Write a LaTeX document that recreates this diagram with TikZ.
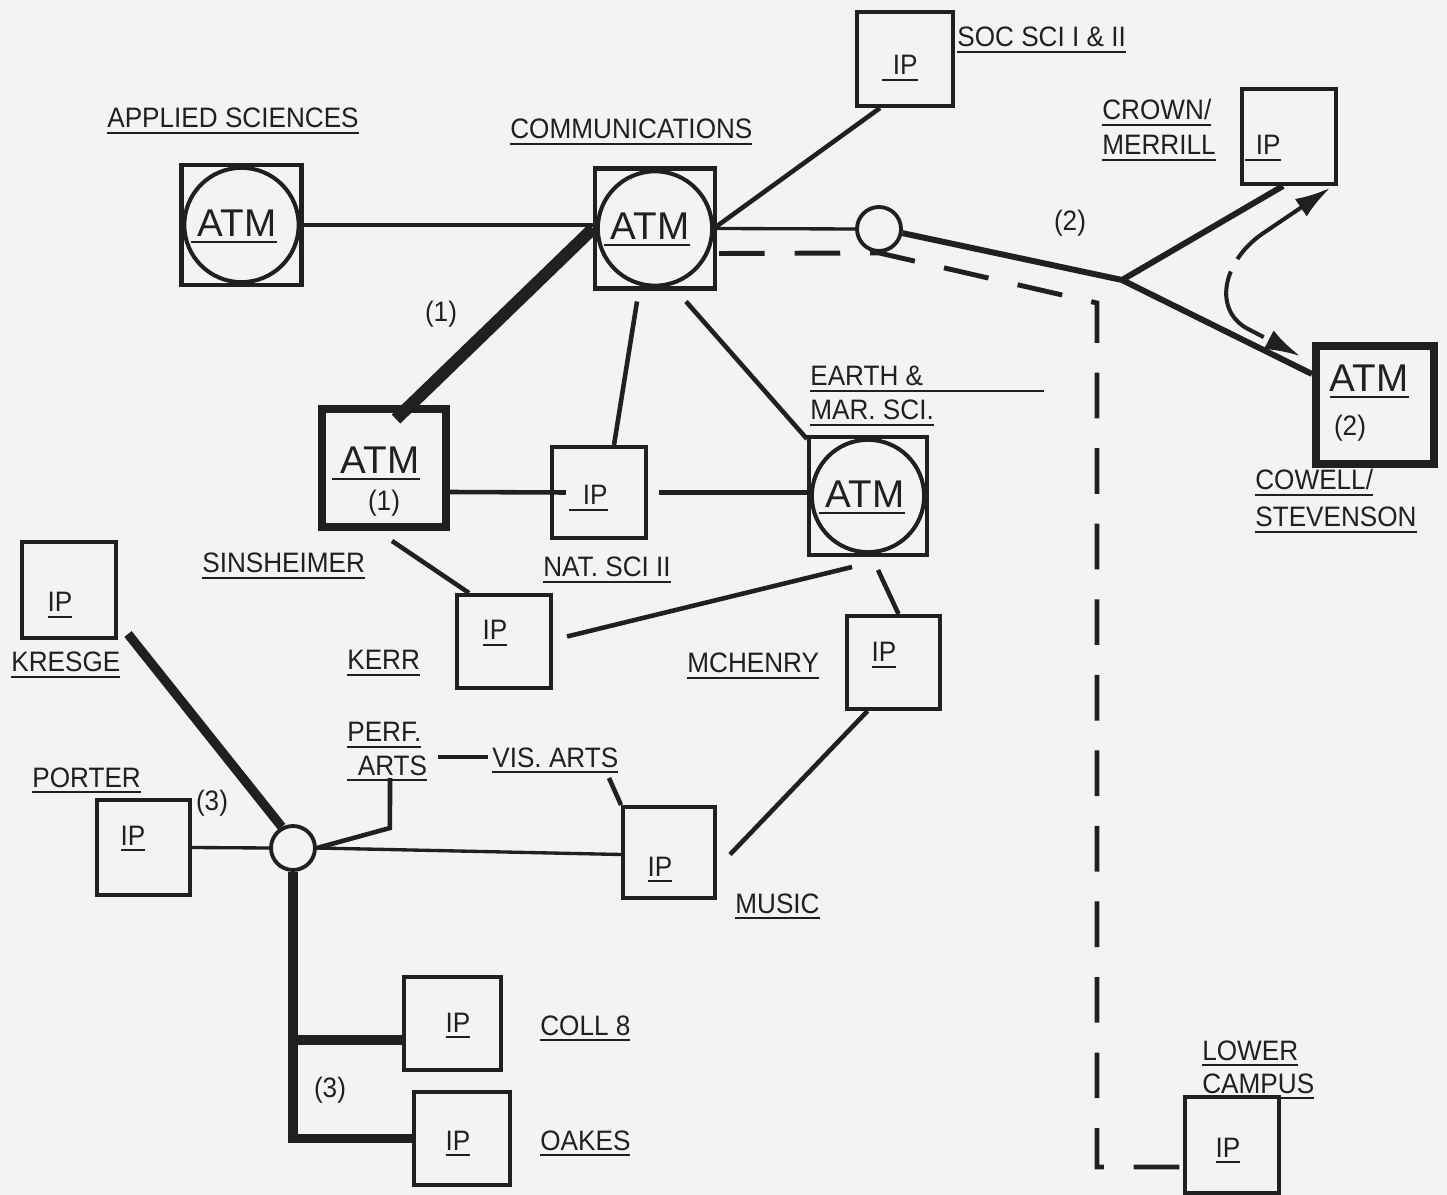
\documentclass[tikz,border=0pt]{standalone}
\usepackage{fontspec}
\setmainfont{Liberation Sans}[FakeStretch=0.93]
\newfontfamily\atmfont{Liberation Sans}
\usetikzlibrary{arrows.meta,calc}
\definecolor{paper}{RGB}{243,243,243}
\definecolor{ink}{RGB}{32,32,32}
\newcommand\uln[1]{\setbox0\hbox{#1}\rlap{\rule[-3.4pt]{\wd0}{1.1pt}}\box0}
\begin{document}
\begin{tikzpicture}[x=0.02cm,y=-0.02cm,
  lbl/.style={font=\fontsize{16}{18}\selectfont, text=ink, inner sep=0pt},
  atmtxt/.style={font=\atmfont\fontsize{22}{24}\selectfont, text=ink, inner sep=0pt},
  box/.style={draw=ink, line width=2.3pt, inner sep=0pt, rectangle},
  thickbox/.style={draw=ink, line width=4.5pt, inner sep=0pt, rectangle},
  atmbox/.style={box, minimum size=#1,
    path picture={\draw[ink,line width=2.3pt] (path picture bounding box.center) circle[radius={#1/2-1.6pt}];}},
  hub/.style={circle, draw=ink, fill=paper, line width=2.2pt, minimum size=0.88cm, inner sep=0pt},
  thin/.style={draw=ink, line width=1.9pt},
  med/.style={draw=ink, line width=2.6pt},
  heavy/.style={draw=ink, line width=3.4pt},
  xheavy/.style={draw=ink, line width=5.3pt},
  xxheavy/.style={draw=ink, line width=7pt},
  dashline/.style={draw=ink, line width=2.8pt, dash pattern=on 26pt off 17pt, line join=miter}
]
\fill[paper] (0,0) rectangle (1447,1195);
\useasboundingbox (0,0) rectangle (1447,1195);

% ---------- boxes ----------
\node[atmbox=2.4cm] (AS) at (241.5,225) {};
\node[atmbox=2.4cm] (COM) at (655,228.5) {};
\node[atmbox=2.36cm] (EARTH) at (868,496) {};
\node[thickbox, minimum width=2.48cm, minimum height=2.36cm] (SIN) at (384,468) {};
\node[thickbox, minimum size=2.36cm] (COW) at (1375,405) {};

\node[box, minimum width=1.92cm, minimum height=1.88cm] (SOC) at (905,59) {};
\node[box, minimum width=1.88cm, minimum height=1.9cm] (CROWN) at (1289,136.5) {};
\node[box, minimum width=1.88cm, minimum height=1.82cm] (NAT) at (599,492.5) {};
\node[box, minimum width=1.88cm, minimum height=1.86cm] (KERR) at (504,641.5) {};
\node[box, minimum width=1.86cm, minimum height=1.86cm] (MCH) at (893.5,662.5) {};
\node[box, minimum width=1.88cm, minimum height=1.92cm] (KRE) at (69,590) {};
\node[box, minimum width=1.86cm, minimum height=1.9cm] (POR) at (143.5,847.5) {};
\node[box, minimum width=1.84cm, minimum height=1.82cm] (MUS) at (669,852.5) {};
\node[box, minimum width=1.94cm, minimum height=1.86cm] (COLL) at (452.5,1023.5) {};
\node[box, minimum width=1.92cm, minimum height=1.86cm] (OAK) at (462,1138.5) {};
\node[box, minimum width=1.88cm, minimum height=1.92cm] (LOW) at (1232,1145) {};

\node[hub] (C1) at (879,229) {};
\node[hub] (C2) at (293,848) {};

% ---------- texts inside boxes ----------
\node[atmtxt, anchor=base east] (aAS) at (277,237) {\uln{\hspace{4pt}ATM}};
\node[atmtxt, anchor=base east] (aCOM) at (690,240) {\uln{\hspace{4pt}ATM}};
\node[atmtxt, anchor=base east] (aEA) at (905,508) {\uln{\hspace{4pt}ATM}};
\node[atmtxt, anchor=base east] (aSIN) at (420,474) {\uln{\hspace{5pt}ATM}};
\node[lbl] (aSIN1) at (384,503) {(1)};
\node[atmtxt, anchor=base east] (aCOW) at (1409,392) {\uln{ATM}};
\node[lbl] (aCOW2) at (1350,428) {(2)};

\node[lbl, anchor=base east] (tSOC) at (918,75) {\uln{\hspace{6pt}IP}};
\node[lbl, anchor=base east] (tCR) at (1281,155) {\uln{\hspace{6pt}IP}};
\node[lbl, anchor=base east] (tNAT) at (608,505) {\uln{\hspace{8pt}IP}};
\node[lbl, anchor=base] (tKERR) at (495,640) {\uln{IP}};
\node[lbl, anchor=base] (tMCH) at (884,662) {\uln{IP}};
\node[lbl, anchor=base] (tKRE) at (60,612) {\uln{IP}};
\node[lbl, anchor=base] (tPOR) at (133,845) {\uln{IP}};
\node[lbl, anchor=base] (tMUS) at (660,876) {\uln{IP}};
\node[lbl, anchor=base] (tCOLL) at (458,1032) {\uln{IP}};
\node[lbl, anchor=base] (tOAK) at (458,1150) {\uln{IP}};
\node[lbl, anchor=base] (tLOW) at (1228,1157) {\uln{IP}};

% ---------- labels ----------
\node[lbl, anchor=base west] (lAS) at (107,128) {\uln{APPLIED SCIENCES}};
\node[lbl, anchor=base west] (lCOM) at (510,139) {\uln{COMMUNICATIONS}};
\node[lbl, anchor=base west] (lSOC) at (957,47) {\uln{SOC SCI I \& II}};
\node[lbl, anchor=base west] (lCR1) at (1102,120) {\uln{CROWN/}};
\node[lbl, anchor=base west] (lCR2) at (1102,155) {\uln{MERRILL}};
\node[lbl] (lTWO) at (1070,223) {(2)};
\node[lbl, anchor=base west] (lCOW1) at (1255,490) {\uln{COWELL/}};
\node[lbl, anchor=base west] (lCOW2) at (1255,527) {\uln{STEVENSON}};
\node[lbl, anchor=base west] (lEA1) at (810,386) {\uln{\makebox[133pt][l]{EARTH \&}}};
\node[lbl, anchor=base west] (lEA2) at (810,420) {\uln{MAR. SCI.}};
\node[lbl] (lONE) at (441,314) {(1)};
\node[lbl, anchor=base west] (lSIN) at (202,573) {\uln{SINSHEIMER}};
\node[lbl, anchor=base west] (lNAT) at (543,577) {\uln{NAT. SCI II}};
\node[lbl, anchor=base west] (lKERR) at (347,670) {\uln{KERR}};
\node[lbl, anchor=base west] (lMCH) at (687,673) {\uln{MCHENRY}};
\node[lbl, anchor=base west] (lKRE) at (11,672) {\uln{KRESGE}};
\node[lbl, anchor=base west] (lPOR) at (32,787) {\uln{PORTER}};
\node[lbl] (lTHR1) at (212,803) {(3)};
\node[lbl, anchor=base west] (lPERF) at (347,742) {\uln{PERF.}};
\node[lbl, anchor=base west] (lARTS) at (347,775) {\uln{\hspace{6pt}ARTS}};
\node[lbl, anchor=base west] (lVIS) at (492,767) {\uln{VIS. ARTS}};
\node[lbl, anchor=base west] (lMUS) at (735,913) {\uln{MUSIC}};
\node[lbl, anchor=base west] (lCOLL) at (540,1035) {\uln{COLL 8}};
\node[lbl, anchor=base west] (lOAK) at (540,1150) {\uln{OAKES}};
\node[lbl] (lTHR2) at (330,1090) {(3)};
\node[lbl, anchor=base west] (lLOW1) at (1202,1060) {\uln{LOWER}};
\node[lbl, anchor=base west] (lLOW2) at (1202,1093) {\uln{CAMPUS}};

% ---------- coordinates ----------
\coordinate (J) at (1122,280);
\coordinate (dA) at (1097,303);
\coordinate (dB) at (1097,1167);
\coordinate (arA) at (1330,188);
\coordinate (arB) at (1300,356);
\coordinate (pa) at (390,778);
\coordinate (pv1) at (438,757);
\coordinate (pv2) at (488,757);

% ---------- connectors ----------
\draw[med] (AS.east) -- (AS.east -| COM.west);
\draw[xxheavy] (COM.west) -- ($(SIN.north)+(12,14)$);
\draw[med] ($(COM.east)+(-2,-1)$) -- ($(SOC.south)+(-25,0)$);
\draw[thin] (COM.east) -- (C1.west);
\draw[dashline] ($(COM.east)+(2,25)$) -- (C1.south) -- (dA) -- (dB) -- (dB -| LOW.west);
\draw[heavy] (C1.-10) -- (J);
\draw[heavy] (J) -- ($(CROWN.south)+(-6,0)$);
\draw[heavy] (J) -- ($(COW.north west)+(0,32)$);
\draw[ink, line width=2.3pt, dash pattern=on 48pt off 8pt,
  {Latex[length=20pt,width=12pt]}-{Latex[length=20pt,width=12pt]}]
  (arA) -- (1262,234) .. controls (1222,262) and (1212,312) .. (1250,330) -- (arB);
\draw[med] ($(COM.south)+(-18,11)$) -- ($(NAT.north)+(15,0)$);
\draw[med] ($(COM.south)+(31,11)$) -- ($(EARTH.north west)+(0,4)$);
\draw[med] ($(SIN.east)+(0,24)$) -- ($(NAT.west)+(16,0)$);
\draw[med] ($(NAT.east)+(11,0)$) -- (EARTH.west |- NAT.east);
\draw[med] ($(SIN.south)+(8,10)$) -- ($(KERR.north west)+(14,0)$);
\draw[med] ($(EARTH.south)+(-16,10)$) -- ($(KERR.east)+(14,-5)$);
\draw[med] ($(EARTH.south)+(10,13)$) -- ($(MCH.north)+(5,0)$);
\draw[med] ($(MCH.south)+(-26,0)$) -- ($(MUS.east)+(13,2)$);
\draw[xheavy] ($(KRE.south east)+(10,-6)$) -- (C2.118);
\draw[thin] (POR.east) -- (C2.west);
\draw[med] (C2.east) -- ++(73,-20) -- (pa);
\draw[thin] (C2.east) -- ($(MUS.west)+(0,2)$);
\draw[med] ($(MUS.north west)+(-12,-27)$) -- (MUS.north west);
\draw[med] (pv1) -- (pv2);
\draw[xheavy, line join=miter] (C2.south) -- (C2.south |- OAK.west) -- (OAK.west);
\draw[xheavy] (C2.south |- 0,1040) -- (COLL.west |- 0,1040);
\end{tikzpicture}
\end{document}
